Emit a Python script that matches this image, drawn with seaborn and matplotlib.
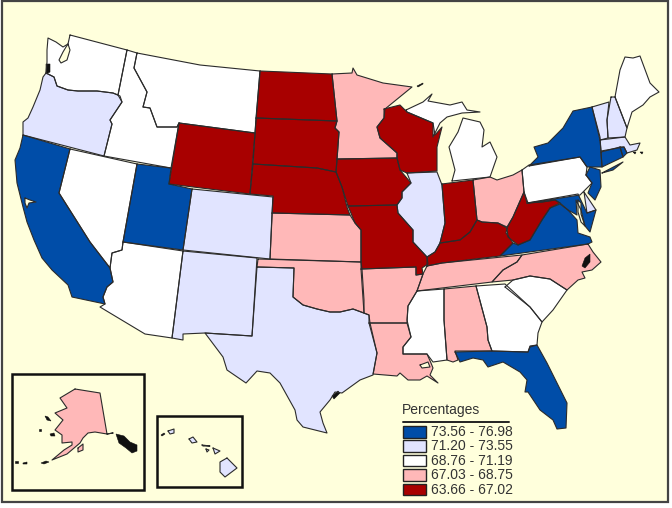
import matplotlib
matplotlib.use("Agg")
import matplotlib.pyplot as plt
from matplotlib.patches import Rectangle
import pandas as pd
import seaborn as sns

# legend classes, top to bottom
class_labels = ["73.56 - 76.98", "71.20 - 73.55", "68.76 - 71.19", "67.03 - 68.75", "63.66 - 67.02"]
class_colors = ["#004DA8", "#E1E4FF", "#FFFFFF", "#FFB8B8", "#A80000"]

# class index per state
state_class = {
    "WA": 2, "OR": 1, "CA": 0, "NV": 2, "ID": 2, "MT": 2, "WY": 4, "UT": 0, "CO": 1, "AZ": 2,
    "NM": 1, "TX": 1, "OK": 3, "KS": 3, "NE": 4, "SD": 4, "ND": 4, "MN": 3, "IA": 4, "MO": 4,
    "WI": 4, "IL": 1, "IN": 4, "MI_L": 2, "MI_U": 2, "OH": 3, "KY": 4, "TN": 3, "WV": 4, "VA": 0,
    "MD": 0, "DE": 1, "NJ": 0, "PA": 2, "NY": 0, "LI": 0, "CT": 0, "RI": 0, "MA": 1, "VT": 1,
    "NH": 1, "ME": 2, "NC": 3, "SC": 2, "GA": 2, "AL": 3, "MS": 2, "LA": 3, "AR": 3, "FL": 0,
    "AK": 3, "KODIAK": 3, "HI1": 1, "HI2": 1, "HI3": 1, "HI4": 1, "HI5": 1, "HI6": 1,
}

# state outlines (pixels)
outlines = {
    "WA": [(70,35),(127,50),(118,95),(113,93),(97,91),(78,91),(68,90),(57,86),(54,77),(46,73),(47,62),(47,50),(48,38),(56,42),(63,47),(68,44)],
    "OR": [(46,73),(54,77),(57,86),(68,90),(78,91),(97,91),(113,93),(120,96),(122,102),(110,120),(112,124),(104,156),(23,135),(23,122),(28,118),(33,107),(40,90),(43,77)],
    "CA": [(23,135),(70,149),(59,193),(90,242),(110,268),(113,282),(107,287),(103,297),(105,304),(72,297),(68,285),(52,270),(42,258),(34,240),(27,222),(23,207),(17,183),(15,160),(20,148)],
    "NV": [(70,149),(137,164),(123,242),(122,250),(112,253),(110,268),(90,242),(59,193)],
    "ID": [(127,50),(137,53),(134,68),(147,92),(143,107),(150,108),(157,127),(177,127),(179,123),(171,168),(104,156),(112,124),(110,120),(122,102),(118,95)],
    "MT": [(137,53),(200,65),(260,71),(255,133),(179,123),(177,127),(157,127),(150,108),(143,107),(147,92),(134,68)],
    "WY": [(179,123),(255,133),(250,194),(169,184)],
    "UT": [(137,164),(171,168),(169,184),(192,189),(183,250),(123,242)],
    "CO": [(192,189),(273,197),(270,259),(183,250)],
    "AZ": [(123,242),(183,251),(172,338),(145,334),(100,307),(105,304),(103,297),(107,287),(113,282),(110,268),(112,253),(122,250)],
    "NM": [(183,251),(257,258),(252,336),(205,333),(183,334),(183,340),(172,338)],
    "TX": [(257,267),(294,268),(293,297),(303,305),(317,309),(330,312),(340,312),(353,309),(369,315),(370,323),(377,353),(373,375),(360,380),(342,393),(335,392),(330,400),(320,412),(323,423),(327,433),(303,427),(297,420),(295,410),(280,383),(270,373),(257,371),(246,383),(227,370),(223,357),(205,333),(252,336)],
    "OK": [(258,259),(361,262),(362,269),(364,300),(364,313),(353,309),(340,312),(330,312),(317,309),(303,305),(293,297),(294,268),(257,267)],
    "KS": [(272,213),(350,215),(355,223),(361,230),(361,262),(270,259)],
    "NE": [(253,164),(317,168),(336,172),(342,187),(347,207),(350,215),(272,213),(273,196),(250,194)],
    "SD": [(256,118),(337,121),(335,128),(339,132),(337,160),(336,172),(317,168),(253,164)],
    "ND": [(260,71),(332,74),(337,121),(256,118)],
    "MN": [(332,74),(352,73),(353,68),(357,75),(383,83),(412,87),(385,109),(384,118),(377,127),(380,138),(397,153),(397,158),(337,159),(339,132),(335,128),(337,121)],
    "IA": [(337,159),(397,158),(400,170),(411,183),(402,192),(402,198),(397,205),(348,206),(342,187),(336,172)],
    "MO": [(348,206),(397,205),(398,213),(413,230),(413,242),(427,257),(428,264),(422,268),(423,274),(416,275),(416,267),(361,269),(361,230),(355,223)],
    "WI": [(384,109),(400,105),(407,112),(433,123),(435,135),(442,127),(437,147),(437,171),(407,173),(400,170),(397,158),(397,153),(380,138),(377,127),(384,118)],
    "IL": [(407,173),(437,172),(442,185),(445,223),(440,243),(435,252),(427,257),(413,242),(413,230),(398,213),(397,205),(402,198),(402,192),(411,183)],
    "IN": [(442,184),(473,180),(477,220),(470,232),(460,240),(440,243),(445,223)],
    "MI_L": [(452,181),(490,177),(497,157),(490,142),(482,147),(484,130),(480,122),(463,118),(458,132),(449,147),(455,170)],
    "MI_U": [(406,110),(423,102),(432,94),(428,101),(450,105),(462,102),(467,110),(480,112),(462,113),(447,117),(440,123),(433,137),(433,123),(407,112)],
    "OH": [(473,180),(490,177),(497,180),(513,175),(522,170),(524,192),(513,217),(507,227),(498,223),(482,222),(477,220)],
    "KY": [(427,266),(442,263),(500,256),(513,243),(506,233),(507,228),(498,223),(482,222),(477,220),(470,232),(460,240),(440,243),(435,252),(427,257)],
    "TN": [(427,266),(442,263),(522,255),(517,262),(503,270),(492,282),(417,291),(422,277),(423,274)],
    "WV": [(524,192),(527,203),(542,202),(555,200),(560,203),(550,208),(542,220),(530,240),(518,245),(508,237),(507,228),(513,217)],
    "VA": [(550,208),(560,204),(568,210),(577,220),(578,233),(590,237),(592,242),(588,244),(500,256),(513,243),(518,245),(530,240),(542,220)],
    "MD": [(527,203),(578,194),(587,213),(596,210),(590,232),(585,226),(581,210),(576,200),(577,215),(568,210),(560,203),(555,200),(542,202)],
    "DE": [(584,192),(596,210),(587,213)],
    "NJ": [(586,175),(590,167),(600,170),(601,187),(595,200),(588,193),(592,183)],
    "PA": [(522,170),(529,165),(580,157),(587,167),(586,175),(592,183),(580,195),(528,203),(524,192)],
    "NY": [(529,166),(538,157),(534,147),(548,143),(563,128),(573,111),(592,107),(600,137),(602,167),(590,167),(587,167),(580,157)],
    "LI": [(602,173),(623,162),(613,170)],
    "CT": [(601,152),(620,147),(623,157),(602,167)],
    "RI": [(620,147),(624,147),(627,153),(623,157)],
    "MA": [(600,140),(625,137),(630,145),(640,143),(637,150),(627,153),(624,147),(601,151)],
    "VT": [(592,107),(609,102),(607,120),(608,138),(600,140)],
    "NH": [(611,97),(615,97),(627,128),(625,137),(608,138),(607,120)],
    "ME": [(615,97),(620,70),(625,57),(633,58),(640,56),(650,83),(659,92),(650,97),(643,105),(632,112),(627,128)],
    "NC": [(588,244),(593,252),(601,262),(592,270),(582,272),(585,278),(578,280),(567,290),(550,279),(530,276),(513,280),(492,282),(503,270),(517,262),(522,255)],
    "SC": [(505,287),(513,280),(530,276),(550,279),(567,290),(553,310),(542,322),(530,307)],
    "GA": [(476,286),(505,284),(530,307),(542,322),(538,333),(537,345),(530,347),(528,352),(492,351),(488,340),(487,327)],
    "AL": [(444,289),(476,286),(487,327),(488,340),(492,351),(455,351),(458,360),(453,362),(447,360),(444,320)],
    "MS": [(417,291),(444,289),(444,320),(447,360),(433,362),(427,354),(403,354),(403,347),(411,337),(407,320),(408,306)],
    "LA": [(369,323),(407,323),(411,337),(403,347),(403,354),(427,354),(431,363),(433,368),(430,375),(438,383),(427,376),(420,380),(408,380),(400,373),(397,376),(385,375),(373,374),(377,353)],
    "AR": [(361,269),(416,267),(416,275),(423,274),(417,291),(408,306),(407,323),(369,323),(369,315),(364,313)],
    "FL": [(455,352),(492,351),(528,352),(530,346),(537,345),(547,363),(553,375),(567,403),(566,428),(557,429),(553,420),(540,410),(528,392),(525,392),(527,380),(520,372),(503,362),(488,367),(483,360),(473,358),(460,362)],
    "AK": [(75,389),(100,393),(107,434),(113,433),(107,434),(95,432),(88,433),(83,438),(80,443),(67,454),(52,460),(64,450),(72,445),(72,442),(62,443),(62,435),(55,430),(63,420),(55,413),(67,408),(60,398)],
    "KODIAK": [(78,448),(83,444),(83,450),(78,452)],
    "HI1": [(227,458),(237,468),(225,477),(220,472),(220,462)],
    "HI2": [(213,448),(220,451),(215,454)],
    "HI3": [(189,439),(193,437),(197,442),(192,443)],
    "HI4": [(168,431),(174,429),(174,433),(170,434)],
    "HI5": [(202,445),(210,446),(203,446)],
    "HI6": [(206,449),(209,450),(207,452)],
}

# sounds and bays, painted over the states in the page colour
water_outlines = {
    "puget": [(68,44),(70,50),(67,60),(61,63),(59,60),(63,52),(66,47)],
    "sf_bay": [(25,198),(30,200),(36,202),(29,203),(27,208),(25,203)],
    "pontchartrain": [(420,365),(428,362),(430,367),(422,368)],
    "chesapeake": [(578,200),(581,203),(581,214),(585,226),(581,222),(578,212)],
}

# tiny islands and broken coast that print almost solid black
dark_marks = {
    "ak_southeast": [(116,434),(124,436),(130,442),(137,445),(137,451),(132,453),(126,448),(119,443)],
    "ak_aleut1": [(41,463),(46,461),(49,462),(44,464)],
    "ak_aleut2": [(15,461),(18,461),(18,463),(15,463)],
    "ak_aleut3": [(23,463),(27,462),(27,464),(23,464)],
    "ak_nunivak": [(50,434),(54,433),(55,436),(51,436)],
    "ak_stlawrence": [(45,416),(48,417),(51,421),(47,420)],
    "ak_dot": [(39,429),(41,429),(41,431),(39,431)],
    "hi_niihau": [(161,435),(164,433),(165,434),(162,436)],
    "isle_royale": [(417,86),(423,83),(423,84),(418,87)],
    "marthas": [(633,152),(636,152),(635,154)],
    "nantucket": [(640,152),(643,152),(642,154)],
    "wa_strait": [(46,64),(50,64),(50,72),(46,74)],
    "nc_sounds": [(585,258),(590,254),(590,262),(585,268),(582,266)],
    "tx_bays": [(332,396),(338,391),(340,393),(334,399)],
}

bg = "#FFFFDC"
line_col = "#2b2b2b"

sns.set_theme(style="white")
plt.rcParams["font.family"] = ["Liberation Sans", "DejaVu Sans"]
palette = sns.color_palette(class_colors)

fig = plt.figure(figsize=(6.72, 5.08), dpi=100, facecolor="white")
ax = fig.add_axes([0, 0, 1, 1])

# page frame and inset boxes
ax.add_patch(Rectangle((2, 1), 666, 501, fc=bg, ec="#444444", lw=1.6))
ax.add_patch(Rectangle((12, 374), 132, 116, fc=bg, ec="#111111", lw=1.8))
ax.add_patch(Rectangle((157, 416), 85, 71, fc=bg, ec="#111111", lw=1.8))

# fills first, borders on top through seaborn
rows = []
for name, pts in outlines.items():
    ax.fill([p[0] for p in pts], [p[1] for p in pts], color=palette[state_class[name]], lw=0)
    for i, (x, y) in enumerate(pts + [pts[0]]):
        rows.append({"shape": name, "x": x, "y": y})
for name, pts in water_outlines.items():
    ax.fill([p[0] for p in pts], [p[1] for p in pts], color=bg, lw=0)
    for i, (x, y) in enumerate(pts + [pts[0]]):
        rows.append({"shape": name, "x": x, "y": y})
borders = pd.DataFrame(rows)
sns.lineplot(data=borders, x="x", y="y", units="shape", estimator=None, sort=False,
             color=line_col, lw=0.8, ax=ax, legend=False)
for pts in dark_marks.values():
    ax.fill([p[0] for p in pts], [p[1] for p in pts], color="#111111", lw=0.4)

# legend
ax.text(402, 410, "Percentages", fontsize=10, color="#333333", va="center", ha="left")
ax.plot([403, 509], [422, 422], color="#222222", lw=1.4)
for i, (lab, c) in enumerate(zip(class_labels, palette)):
    y = 426 + i * 14.4
    ax.add_patch(Rectangle((403, y), 23, 11.5, fc=c, ec="#222222", lw=1))
    ax.text(431, y + 6, lab, fontsize=10, color="#333333", va="center", ha="left")

ax.set_xlim(0, 672)
ax.set_ylim(508, 0)
ax.axis("off")

fig.savefig("out.png", dpi=100, facecolor="white")
